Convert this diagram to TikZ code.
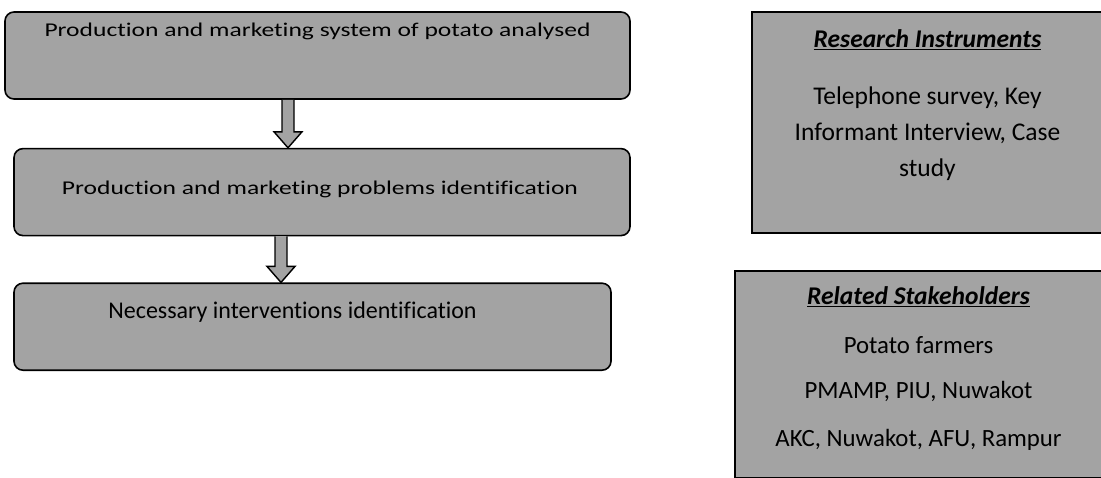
\documentclass[tikz,border=0pt]{standalone}
\usepackage{fontspec}
\setmainfont{Carlito}[Ligatures=NoCommon]
\newfontfamily\stepfont{Carlito}[FakeStretch=1.31,Ligatures=NoCommon]
\usetikzlibrary{positioning,calc}
\definecolor{boxgray}{HTML}{A3A3A3}

% hollow block arrow from the bottom of one box to the top of the next
\newcommand{\fatarrow}[3]{%
  \filldraw[fatarrow] let \p1=(#1.south), \p2=(#2.north) in
    (#3pt-6pt,\y1) -- (#3pt-6pt,\y2+16pt) -- (#3pt-14pt,\y2+16pt) -- (#3pt,\y2)
    -- (#3pt+14pt,\y2+16pt) -- (#3pt+6pt,\y2+16pt) -- (#3pt+6pt,\y1);}

\begin{document}
\begin{tikzpicture}[
    x=1pt, y=-1pt,
    node distance=48pt,
    stepbox/.style={rectangle,draw,line width=1.6pt,fill=boxgray,rounded corners=9pt,minimum height=87pt,inner sep=0pt},
    steptext/.style={anchor=base,inner sep=0pt,font=\stepfont\fontsize{19.5}{23}\selectfont},
    infobox/.style={rectangle,draw,line width=2.6pt,fill=boxgray,inner sep=0pt},
    infohead/.style={anchor=base,inner sep=0pt,font=\fontsize{25.5}{30}\selectfont\bfseries\itshape},
    infotext/.style={anchor=base,inner sep=0pt,font=\fontsize{25.5}{30}\selectfont},
    fatarrow/.style={line width=1.4pt,fill=boxgray,line join=miter}
]
    \useasboundingbox (0,0) rectangle (1101,477);

    % left column: the three steps
    \node[stepbox,minimum width=625pt] (step1) at (317.5,55.5) {};
    \node[stepbox,minimum width=616pt,below=48pt of step1,xshift=4.5pt] (step2) {};
    \node[stepbox,minimum width=597pt,below=46pt of step2,xshift=-9.5pt] (step3) {};

    \node[steptext] (step1txt) at ([yshift=-25pt]step1.north) {Production and marketing system of potato analysed};
    \node[steptext] (step2txt) at ([xshift=-2pt,yshift=-47pt]step2.north) {Production and marketing problems identification};
    \node[steptext,font=\fontsize{24}{28}\selectfont] (step3txt) at ([xshift=-20pt,yshift=-36pt]step3.north) {Necessary interventions identification};

    \fatarrow{step1}{step2}{288}
    \fatarrow{step2}{step3}{281}

    % right column: instruments and stakeholders
    \node[infobox,minimum width=351pt,minimum height=221pt] (instr) at (927.5,122.5) {};
    \node[infobox,minimum width=367pt,minimum height=207.5pt,below=35.5pt of instr,xshift=-9pt] (stake) {};

    \node[infohead] (instrhead) at ([yshift=-37pt]instr.north) {\underline{Research Instruments}};
    \node[infotext] (instr1) at ([yshift=-94pt]instr.north) {Telephone survey, Key};
    \node[infotext] (instr2) at ([yshift=-130pt]instr.north) {Informant Interview, Case};
    \node[infotext] (instr3) at ([yshift=-166pt]instr.north) {study};

    \node[infohead] (stakehead) at ([yshift=-35pt]stake.north) {\underline{Related Stakeholders}};
    \node[infotext,font=\fontsize{24.8}{29}\selectfont] (stake1) at ([yshift=-84pt]stake.north) {Potato farmers};
    \node[infotext,font=\fontsize{24.8}{29}\selectfont] (stake2) at ([yshift=-129pt]stake.north) {PMAMP, PIU, Nuwakot};
    \node[infotext,font=\fontsize{24.8}{29}\selectfont] (stake3) at ([yshift=-177pt]stake.north) {AKC, Nuwakot, AFU, Rampur};
\end{tikzpicture}
\end{document}
